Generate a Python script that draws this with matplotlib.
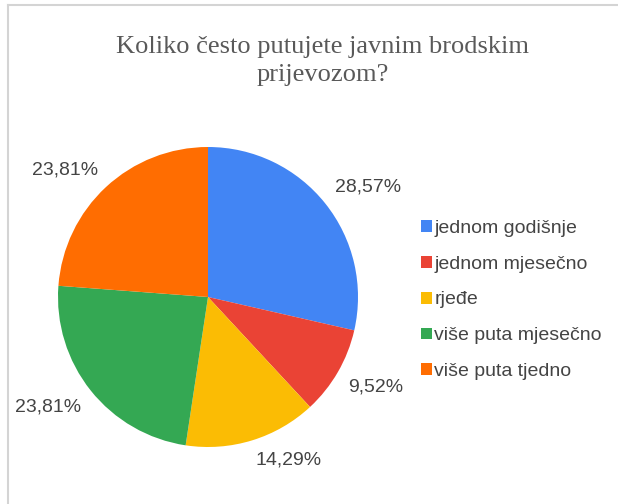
import matplotlib.pyplot as plt
from matplotlib.lines import Line2D

categories = ['jednom godišnje', 'jednom mjesečno', 'rjeđe', 'više puta mjesečno', 'više puta tjedno']
counts = [6, 2, 3, 5, 5]
colors = ['#4285F4', '#EA4335', '#FBBC04', '#34A853', '#FF6D01']
title = 'Koliko često putujete javnim brodskim\nprijevozom?'

W, H = 618, 504
fig = plt.figure(figsize=(W / 100, H / 100), dpi=100)

total = sum(counts)
pct_labels = [f'{100 * c / total:.2f}%'.replace('.', ',') for c in counts]

# pie area in pixels: center (208, 297), radius 150
ax = fig.add_axes([58 / W, (H - 447) / H, 300 / W, 300 / H])
wedges, texts = ax.pie(
    counts, colors=colors, startangle=90, counterclock=False,
    labels=pct_labels, labeldistance=1.08,
    textprops={'family': 'Liberation Sans', 'fontsize': 14, 'color': '#444444'})
# anchor the label corner nearest to the pie, like Google Charts does
for t in texts:
    t.set_va('top' if t.get_position()[1] < 0 else 'bottom')
ax.set_xlim(-1, 1)
ax.set_ylim(-1, 1)
ax.set_aspect('equal')
ax.axis('off')

fig.text(323 / W, 1 - 61 / H, title, ha='center', va='center',
         family='Liberation Serif', fontsize=19, color='#595959', linespacing=1.35)

fig.legend(wedges, categories, loc='center left', bbox_to_anchor=(403 / W, 1 - 300 / H),
           frameon=False, handlelength=0.57, handleheight=0.57, handletextpad=0.15,
           labelspacing=0.97, prop={'family': 'Liberation Sans', 'size': 14},
           labelcolor='#444444')

# light frame at top and left, as in the screenshot
fig.add_artist(Line2D([8 / W, 8 / W], [0, 1 - 5 / H], color='#d4d4d4', lw=1.5))
fig.add_artist(Line2D([8 / W, 1], [1 - 5 / H, 1 - 5 / H], color='#d4d4d4', lw=1.5))

fig.savefig('out.png', dpi=100)
